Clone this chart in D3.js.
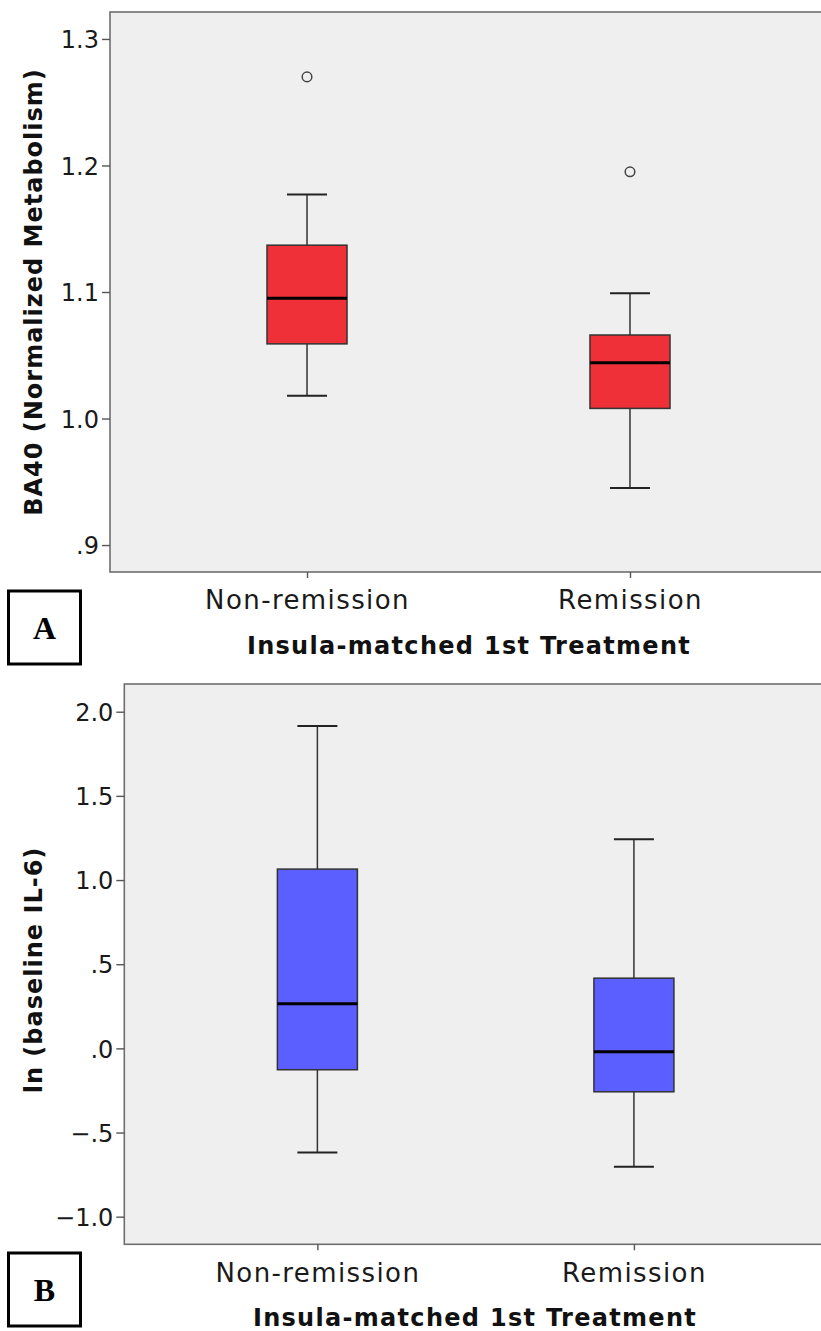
<!DOCTYPE html>
<html>
<head>
<meta charset="utf-8">
<script src="https://cdn.jsdelivr.net/npm/d3@7"></script>
<style>
  html, body { margin: 0; padding: 0; background: #ffffff; }
  svg { display: block; }
</style>
</head>
<body>
<svg id="chart" width="821" height="1331"></svg>
<script>
// Treatment outcome groups shared by both panels
const categories = ["Non-remission", "Remission"];

// Panel A: BA40 normalized metabolism (box-plot five-number summaries)
const ba40Min    = [1.018, 0.945];
const ba40Q1     = [1.059, 1.008];
const ba40Median = [1.095, 1.044];
const ba40Q3     = [1.137, 1.066];
const ba40Max    = [1.177, 1.099];
const ba40Outliers = [[1.270], [1.195]];
const ba40Ticks  = [0.9, 1.0, 1.1, 1.2, 1.3];

// Panel B: ln(baseline IL-6)
const il6Min    = [-0.618, -0.703];
const il6Q1     = [-0.127, -0.258];
const il6Median = [0.265, -0.020];
const il6Q3     = [1.065, 0.417];
const il6Max    = [1.915, 1.242];
const il6Outliers = [[], []];
const il6Ticks  = [-1.0, -0.5, 0.0, 0.5, 1.0, 1.5, 2.0];

const svg = d3.select("#chart");
const FONT = "'DejaVu Sans', Verdana, sans-serif";

// SPSS-style labels: drop the leading zero, use a true minus sign
function spssFormat(v) {
  let s = d3.format(".1f")(v).replace("\u2212", "-");
  s = s.replace(/^(-?)0\./, "$1.");
  return s.replace("-", "\u2212");
}

function drawPanel(opt) {
  const g = svg.append("g");
  const x = d3.scalePoint().domain(categories)
    .range([opt.left, 827]).padding(0.61);
  const y = d3.scaleLinear().domain(opt.domain).range([opt.bottom, opt.top]);

  // plot background (runs to the right edge of the canvas)
  g.append("rect")
    .attr("x", opt.left).attr("y", opt.top)
    .attr("width", 821 - opt.left + 2).attr("height", opt.bottom - opt.top)
    .attr("fill", "#efefef").attr("stroke", "#6e6e6e").attr("stroke-width", 1.6);

  // y axis
  const yAxis = d3.axisLeft(y).tickValues(opt.ticks).tickFormat(spssFormat)
    .tickSize(8).tickPadding(3);
  const ya = g.append("g").attr("transform", `translate(${opt.left},0)`).call(yAxis);
  ya.select(".domain").remove();
  ya.selectAll(".tick line").attr("stroke", "#555").attr("stroke-width", 1.4);
  ya.selectAll(".tick text").attr("font-family", FONT).attr("font-size", 24)
    .attr("fill", "#1a1a1a").attr("dy", "0.36em");

  // x axis
  const xAxis = d3.axisBottom(x).tickSize(6).tickPadding(13);
  const xa = g.append("g").attr("transform", `translate(0,${opt.bottom})`).call(xAxis);
  xa.select(".domain").remove();
  xa.selectAll(".tick line").attr("stroke", "#555").attr("stroke-width", 1.4);
  xa.selectAll(".tick text").attr("font-family", FONT).attr("font-size", 26)
    .attr("letter-spacing", 1.4).attr("fill", "#1a1a1a");

  // axis titles
  g.append("text")
    .attr("x", opt.xTitleX).attr("y", opt.bottom + 82)
    .attr("text-anchor", "middle")
    .attr("font-family", FONT).attr("font-size", 24).attr("font-weight", "bold")
    .attr("letter-spacing", 1.3)
    .attr("fill", "#111").text("Insula-matched 1st Treatment");
  g.append("text")
    .attr("transform", `translate(42,${opt.yTitleY}) rotate(-90)`)
    .attr("text-anchor", "middle")
    .attr("font-family", FONT).attr("font-size", 24).attr("font-weight", "bold")
    .attr("letter-spacing", 1.0)
    .attr("fill", "#111").text(opt.yTitle);

  const boxW = 80, capW = 40;
  categories.forEach((c, i) => {
    const cx = x(c);
    const bg = g.append("g");
    // whiskers
    bg.append("line").attr("x1", cx).attr("x2", cx)
      .attr("y1", y(opt.max[i])).attr("y2", y(opt.q3[i]))
      .attr("stroke", "#333").attr("stroke-width", 1.5);
    bg.append("line").attr("x1", cx).attr("x2", cx)
      .attr("y1", y(opt.q1[i])).attr("y2", y(opt.min[i]))
      .attr("stroke", "#333").attr("stroke-width", 1.5);
    [opt.max[i], opt.min[i]].forEach(v => {
      bg.append("line").attr("x1", cx - capW / 2).attr("x2", cx + capW / 2)
        .attr("y1", y(v)).attr("y2", y(v))
        .attr("stroke", "#222").attr("stroke-width", 2);
    });
    // box
    bg.append("rect")
      .attr("x", cx - boxW / 2).attr("width", boxW)
      .attr("y", y(opt.q3[i])).attr("height", y(opt.q1[i]) - y(opt.q3[i]))
      .attr("fill", opt.color).attr("stroke", "#333").attr("stroke-width", 1.5);
    // median
    bg.append("line").attr("x1", cx - boxW / 2).attr("x2", cx + boxW / 2)
      .attr("y1", y(opt.median[i])).attr("y2", y(opt.median[i]))
      .attr("stroke", "#000").attr("stroke-width", 3);
    // outliers
    opt.outliers[i].forEach(v => {
      bg.append("circle").attr("cx", cx).attr("cy", y(v)).attr("r", 4.8)
        .attr("fill", "none").attr("stroke", "#444").attr("stroke-width", 1.5);
    });
  });

  // panel letter badge
  g.append("rect")
    .attr("x", 8.5).attr("y", opt.badgeY)
    .attr("width", 72).attr("height", 73)
    .attr("fill", "#fff").attr("stroke", "#000").attr("stroke-width", 3);
  g.append("text")
    .attr("x", 44.5).attr("y", opt.badgeY + 48)
    .attr("text-anchor", "middle")
    .attr("font-family", "'Liberation Serif', 'Times New Roman', serif")
    .attr("font-size", 32).attr("font-weight", "bold").attr("fill", "#000")
    .text(opt.letter);
}

drawPanel({
  left: 110, top: 12, bottom: 572,
  domain: [0.8787, 1.3213], ticks: ba40Ticks,
  min: ba40Min, q1: ba40Q1, median: ba40Median, q3: ba40Q3, max: ba40Max,
  outliers: ba40Outliers, color: "#ef3038",
  yTitle: "BA40 (Normalized Metabolism)", yTitleY: 292, xTitleX: 469,
  letter: "A", badgeY: 591
});

drawPanel({
  left: 124.3, top: 684, bottom: 1244.3,
  domain: [-1.164, 2.1646], ticks: il6Ticks,
  min: il6Min, q1: il6Q1, median: il6Median, q3: il6Q3, max: il6Max,
  outliers: il6Outliers, color: "#5b5fff",
  yTitle: "ln (baseline IL-6)", yTitleY: 970, xTitleX: 475,
  letter: "B", badgeY: 1253
});
</script>
</body>
</html>
